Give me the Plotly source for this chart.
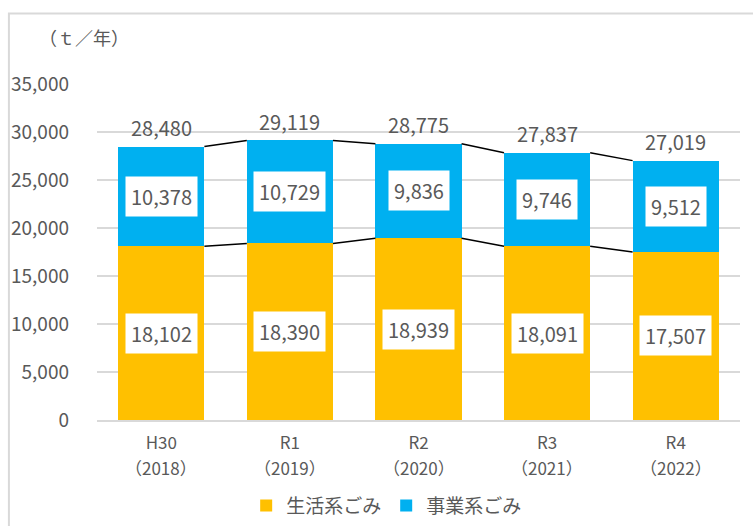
import plotly.graph_objects as go

categories = ["H30", "R1", "R2", "R3", "R4"]
years = ["（2018）", "（2019）", "（2020）", "（2021）", "（2022）"]
household = [18102, 18390, 18939, 18091, 17507]
business = [10378, 10729, 9836, 9746, 9512]
totals = [28480, 29119, 28775, 27837, 27019]
series_names = ["生活系ごみ", "事業系ごみ"]
y_ticks = [0, 5000, 10000, 15000, 20000, 25000, 30000, 35000]

FONT = "Noto Sans CJK JP"
GRAY = "#595959"
ORANGE = "#FFC000"
BLUE = "#00B0F0"
BAR_W = 0.67

xs = list(range(len(categories)))
fig = go.Figure()
fig.add_trace(go.Bar(x=xs, y=household, name=series_names[0], marker_color=ORANGE,
                     width=BAR_W, marker_line_width=0))
fig.add_trace(go.Bar(x=xs, y=business, name=series_names[1], marker_color=BLUE,
                     width=BAR_W, marker_line_width=0))

# connector lines between bars
for i in range(len(xs) - 1):
    for vals in (household, totals):
        fig.add_trace(go.Scatter(x=[xs[i] + BAR_W / 2, xs[i + 1] - BAR_W / 2],
                                 y=[vals[i], vals[i + 1]], mode="lines",
                                 line=dict(color="black", width=1.5),
                                 showlegend=False, hoverinfo="skip"))

ann = []
for i in xs:
    ann.append(dict(x=i, y=household[i] / 2, text=f"{household[i]:,}", showarrow=False,
                    bgcolor="white", borderpad=5, font=dict(family=FONT, size=20, color=GRAY)))
    ann.append(dict(x=i, y=household[i] + business[i] / 2, text=f"{business[i]:,}", showarrow=False,
                    bgcolor="white", borderpad=5, font=dict(family=FONT, size=20, color=GRAY)))
    ann.append(dict(x=i, y=totals[i], text=f"{totals[i]:,}", showarrow=False, yshift=19,
                    font=dict(family=FONT, size=20, color=GRAY)))
    ann.append(dict(x=i, y=0, text=years[i], showarrow=False, yanchor="middle", yshift=-47,
                    font=dict(family=FONT, size=17, color=GRAY)))
ann.append(dict(xref="paper", yref="paper", x=-0.093, y=1.14, xanchor="left", yanchor="middle",
                text="（ｔ／年）", showarrow=False, font=dict(family=FONT, size=18, color=GRAY)))

fig.update_layout(
    barmode="stack",
    width=753, height=526,
    margin=dict(l=97, r=13, t=84, b=106, autoexpand=False),
    paper_bgcolor="white", plot_bgcolor="white",
    font=dict(family=FONT, size=19, color=GRAY),
    annotations=ann,
    showlegend=True,
    legend=dict(orientation="h", x=0.232, xanchor="left", y=-0.255, yanchor="middle",
                font=dict(family=FONT, size=19, color=GRAY), traceorder="normal",
                itemwidth=30),
    shapes=[dict(type="rect", xref="paper", yref="paper", x0=-0.137, x1=1.2, y0=-0.5, y1=1.21,
                 line=dict(color="#D9D9D9", width=2), layer="below")],
    xaxis=dict(tickmode="array", tickvals=xs, ticktext=categories, range=[-0.5, 4.5],
               showgrid=False, showline=True, linecolor="#D9D9D9", linewidth=2,
               ticks="", ticklabelstandoff=7, tickfont=dict(family=FONT, size=17, color=GRAY),
               zeroline=False, automargin=False),
    yaxis=dict(range=[0, 35000], tickvals=y_ticks, tickformat=",", showgrid=True,
               gridcolor="#D9D9D9", gridwidth=1.5, zeroline=False, showline=False,
               ticks="", ticklabelstandoff=27, automargin=False,
               tickfont=dict(family=FONT, size=19, color=GRAY)),
)
fig.write_html("out.html", config={"displayModeBar": False},
               post_script="document.body.style.margin='0';")
